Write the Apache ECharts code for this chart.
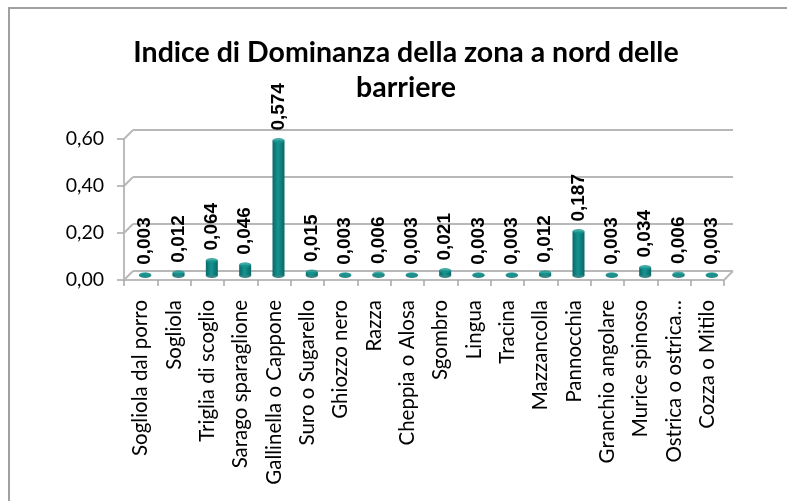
<!DOCTYPE html>
<html>
<head>
<meta charset="utf-8">
<script src="https://cdn.jsdelivr.net/npm/echarts@6/dist/echarts.min.js"></script>
<style>
  html, body { margin: 0; padding: 0; background: #ffffff; }
  #chart { width: 787px; height: 501px; }
</style>
</head>
<body>
<div id="chart"></div>
<script>
// Species (categories) and dominance index values, north of the barriers
const categories = [
  'Sogliola dal porro', 'Sogliola', 'Triglia di scoglio', 'Sarago sparaglione',
  'Gallinella o Cappone', 'Suro o Sugarello', 'Ghiozzo nero', 'Razza',
  'Cheppia o Alosa', 'Sgombro', 'Lingua', 'Tracina', 'Mazzancolla',
  'Pannocchia', 'Granchio angolare', 'Murice spinoso', 'Ostrica o ostrica…',
  'Cozza o Mitilo'
];
const dominance = [
  0.003, 0.012, 0.064, 0.046, 0.574, 0.015, 0.003, 0.006, 0.003,
  0.021, 0.003, 0.003, 0.012, 0.187, 0.003, 0.034, 0.006, 0.003
];
const yTicks = [0, 0.2, 0.4, 0.6];

const titleText = 'Indice di Dominanza della zona a nord delle\nbarriere';
const fmtComma = (v, d) => v.toFixed(d).replace('.', ',');

const GRID_COLOR = '#b8b8b8';
const AXIS_COLOR = '#a6a6a6';
const BAR_DARK = '#0a6767';
const BAR_MID = '#149490';
const CAP_COLOR = '#17958f';

// depth offset of the back wall relative to the front axes
const DX = 9, DY = -9;
const FRONT = { left: 124, top: 139, width: 600, height: 141 };

const chart = echarts.init(document.getElementById('chart'), null, { renderer: 'canvas' });

function yAxisBase(gridIndex, extra) {
  return Object.assign({
    type: 'value', gridIndex: gridIndex,
    min: 0, max: 0.6, interval: 0.2
  }, extra);
}

const option = {
  animation: false,
  backgroundColor: '#ffffff',
  title: {
    text: titleText,
    left: 401, top: 30, textAlign: 'center',
    textStyle: {
      fontFamily: 'Lato', fontWeight: 'bold', fontSize: 28.5,
      color: '#000000', lineHeight: 35
    }
  },
  grid: [
    // back wall (gridlines)
    { left: FRONT.left + DX, top: FRONT.top + DY, width: FRONT.width, height: FRONT.height },
    // front axes
    { left: FRONT.left, top: FRONT.top, width: FRONT.width, height: FRONT.height },
    // mid depth, where the columns stand
    { left: FRONT.left + DX / 2, top: FRONT.top + DY / 2, width: FRONT.width, height: FRONT.height }
  ],
  xAxis: [
    { type: 'category', gridIndex: 0, data: categories, show: false },
    {
      type: 'category', gridIndex: 1, data: categories,
      axisLine: { lineStyle: { color: AXIS_COLOR, width: 1.5 } },
      axisTick: { show: true, length: 6, lineStyle: { color: AXIS_COLOR, width: 1.5 } },
      axisLabel: {
        rotate: 90, interval: 0, margin: 20,
        fontFamily: 'Lato', fontSize: 20.5, color: '#000000'
      }
    },
    { type: 'category', gridIndex: 2, data: categories, show: false }
  ],
  yAxis: [
    yAxisBase(0, {
      axisLine: { show: false }, axisTick: { show: false }, axisLabel: { show: false },
      splitLine: { show: true, lineStyle: { color: GRID_COLOR, width: 2 } }
    }),
    yAxisBase(1, {
      axisLine: { show: true, lineStyle: { color: AXIS_COLOR, width: 1.5 } },
      axisTick: { show: true, length: 7, lineStyle: { color: AXIS_COLOR, width: 1.5 } },
      splitLine: { show: false },
      axisLabel: {
        margin: 20, fontFamily: 'Lato', fontSize: 19.5, color: '#000000',
        formatter: v => fmtComma(v, 2)
      }
    }),
    yAxisBase(2, { show: false, splitLine: { show: false } })
  ],
  series: [
    {
      // base ellipses of the cylinders
      type: 'scatter', xAxisIndex: 2, yAxisIndex: 2,
      data: dominance.map(() => 0),
      symbol: 'circle', symbolSize: [12, 5],
      itemStyle: { color: BAR_DARK }, z: 2, silent: true
    },
    {
      type: 'bar', xAxisIndex: 2, yAxisIndex: 2,
      data: dominance, barWidth: 12,
      itemStyle: {
        color: new echarts.graphic.LinearGradient(0, 0, 1, 0, [
          { offset: 0, color: BAR_DARK },
          { offset: 0.45, color: BAR_MID },
          { offset: 1, color: BAR_DARK }
        ])
      },
      label: {
        show: true, position: 'top', distance: 10, rotate: 90,
        align: 'left', verticalAlign: 'middle',
        fontFamily: 'Liberation Sans', fontWeight: 'bold', fontSize: 19,
        color: '#000000',
        formatter: p => fmtComma(p.value, 3)
      },
      z: 3
    },
    {
      // top ellipses of the cylinders
      type: 'scatter', xAxisIndex: 2, yAxisIndex: 2,
      data: dominance,
      symbol: 'circle', symbolSize: [12, 5],
      itemStyle: { color: CAP_COLOR }, z: 4, silent: true
    }
  ]
};

chart.setOption(option);

// Perspective edges: connectors between the front axes and the back wall,
// plus the outer chart border.
function drawFrame() {
  const elements = [];
  const lineStyle = { stroke: GRID_COLOR, lineWidth: 2 };
  const c0 = chart.convertToPixel({ xAxisIndex: 1 }, 0);
  const c1 = chart.convertToPixel({ xAxisIndex: 1 }, 1);
  const halfBand = (c1 - c0) / 2;
  yTicks.forEach(v => {
    const f = chart.convertToPixel({ xAxisIndex: 1, yAxisIndex: 1 }, [0, v]);
    const b = chart.convertToPixel({ xAxisIndex: 0, yAxisIndex: 0 }, [0, v]);
    elements.push({
      type: 'line', silent: true, z: 1,
      shape: { x1: f[0] - halfBand, y1: f[1], x2: b[0] - halfBand, y2: b[1] },
      style: lineStyle
    });
  });
  // right edge of the floor
  const n = categories.length - 1;
  const fr = chart.convertToPixel({ xAxisIndex: 1, yAxisIndex: 1 }, [n, 0]);
  const br = chart.convertToPixel({ xAxisIndex: 0, yAxisIndex: 0 }, [n, 0]);
  elements.push({
    type: 'line', silent: true, z: 1,
    shape: { x1: fr[0] + halfBand, y1: fr[1], x2: br[0] + halfBand, y2: br[1] },
    style: lineStyle
  });
  // chart border
  elements.push({
    type: 'rect', silent: true, z: 0,
    shape: { x: 9, y: 8, width: 900, height: 600 },
    style: { fill: null, stroke: '#a0a0a0', lineWidth: 2 }
  });
  chart.setOption({ graphic: { elements: elements } });
}
drawFrame();
</script>
</body>
</html>
